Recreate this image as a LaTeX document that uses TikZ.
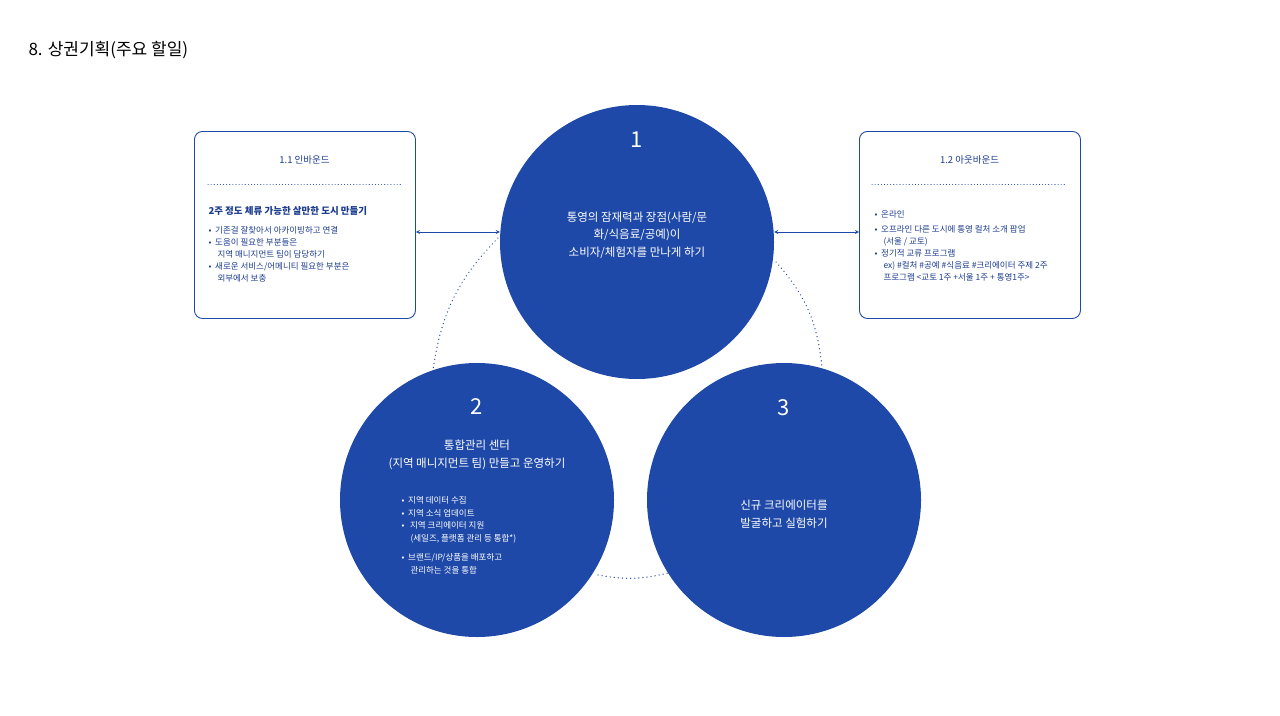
\documentclass[tikz,border=0pt]{standalone}
\usepackage{fontspec}
\setmainfont{Noto Sans CJK KR}
\definecolor{cblue}{HTML}{1F49A8}
\definecolor{tnavy}{HTML}{1C3C8E}
\begin{document}
\begin{tikzpicture}[x=1pt,y=-1pt,
  circ/.style={circle,fill=cblue,minimum size=274pt,inner sep=0pt},
  box/.style={draw=cblue,line width=0.9pt,rounded corners=8pt,minimum width=221pt,minimum height=187pt,anchor=north west},
  wtxt/.style={text=white,align=center,font=\fontsize{11.5}{17.5}\selectfont},
  btxt/.style={text=tnavy,align=left,anchor=north west,font=\fontsize{8.5}{12}\selectfont},
  num/.style={text=white,font=\fontsize{22}{26}\selectfont},
  dots/.style={cblue,line width=1.3pt,dash pattern=on 0.1pt off 4pt,line cap=round},
  arr/.style={cblue,line width=0.8pt,<->,>=stealth}]
\useasboundingbox (0,0) rectangle (1280,715);
\node[anchor=west,font=\fontsize{17}{20}\selectfont] (title) at (25,50) {8. 상권기획(주요 할일)};
% dotted arcs
\coordinate (d1a) at (498,238); \coordinate (d1b) at (433,370);
\coordinate (d2a) at (776,262); \coordinate (d2b) at (822,368);
\coordinate (d3a) at (598,575); \coordinate (d3b) at (668,573);
\draw[dots] (d1a) to[bend right=18] (d1b);
\draw[dots] (d2a) to[bend left=18] (d2b);
\draw[dots] (d3a) to[bend right=12] (d3b);
% circles
\node[circ] (c1) at (637,242) {};
\node[circ] (c2) at (477,500) {};
\node[circ] (c3) at (784,500) {};
\node[num] (n1) at (637,140) {1};
\node[num] (n2) at (477,407) {2};
\node[num] (n3) at (784,408) {3};
\node[wtxt] (t1) at (637,235) {통영의 잠재력과 장점(사람/문\\화/식음료/공예)이\\소비자/체험자를 만나게 하기};
\node[wtxt] (t2) at (477,455) {통합관리 센터\\(지역 매니지먼트 팀) 만들고 운영하기};
\node[wtxt] (t3) at (784,514) {신규 크리에이터를\\발굴하고 실험하기};
\node[text=white,anchor=north west,align=left,font=\fontsize{8.5}{12.5}\selectfont] (b2) at (398,493)
 {•\ \ 지역 데이터 수집\\•\ \ 지역 소식 업데이트\\•\ \ \ 지역 크리에이터 지원\\\hspace*{9pt}(세일즈, 플랫폼 관리 등 통합*)\\[7pt]•\ \ 브랜드/IP/상품을 배포하고\\\hspace*{9pt}관리하는 것을 통합};
% boxes
\node[box] (L) at (194,131) {};
\node[box] (R) at (859,131) {};
\node[text=tnavy,font=\fontsize{9.5}{12}\selectfont] (Lt) at (304.5,160) {1.1 인바운드};
\node[text=tnavy,font=\fontsize{9.5}{12}\selectfont] (Rt) at (969.5,160) {1.2 아웃바운드};
\draw[dots,line width=1pt,dash pattern=on 0.1pt off 3pt] (208,184) -- (402,184);
\draw[dots,line width=1pt,dash pattern=on 0.1pt off 3pt] (872,184) -- (1066,184);
\node[btxt,font=\bfseries\fontsize{9.5}{12}\selectfont] (Lh) at (205,203) {2주 정도 체류 가능한 살만한 도시 만들기};
\node[btxt] (Lb) at (205,223) {•\ \ 기존걸 잘찾아서 아카이빙하고 연결\\•\ \ 도움이 필요한 부분들은\\\hspace*{9pt}지역 매니지먼트 팀이 담당하기\\•\ \ 새로운 서비스/어메니티 필요한 부분은\\\hspace*{9pt}외부에서 보충};
\node[btxt] (Rb) at (871,207) {•\ \ 온라인\\[3pt]•\ \ 오프라인 다른 도시에 통영 컬처 소개 팝업\\\hspace*{9pt}(서울 / 교토)\\•\ \ 정기적 교류 프로그램\\\hspace*{9pt}ex) \#컬처 \#공예 \#식음료 \#크리에이터 주제 2주\\\hspace*{9pt}프로그램 <교토 1주 +서울 1주 + 통영1주>};
% arrows
\draw[arr] (L.east |- 0,232) -- (c1.west |- 0,232);
\draw[arr] (c1.east |- 0,232) -- (R.west |- 0,232);
\end{tikzpicture}
\end{document}
